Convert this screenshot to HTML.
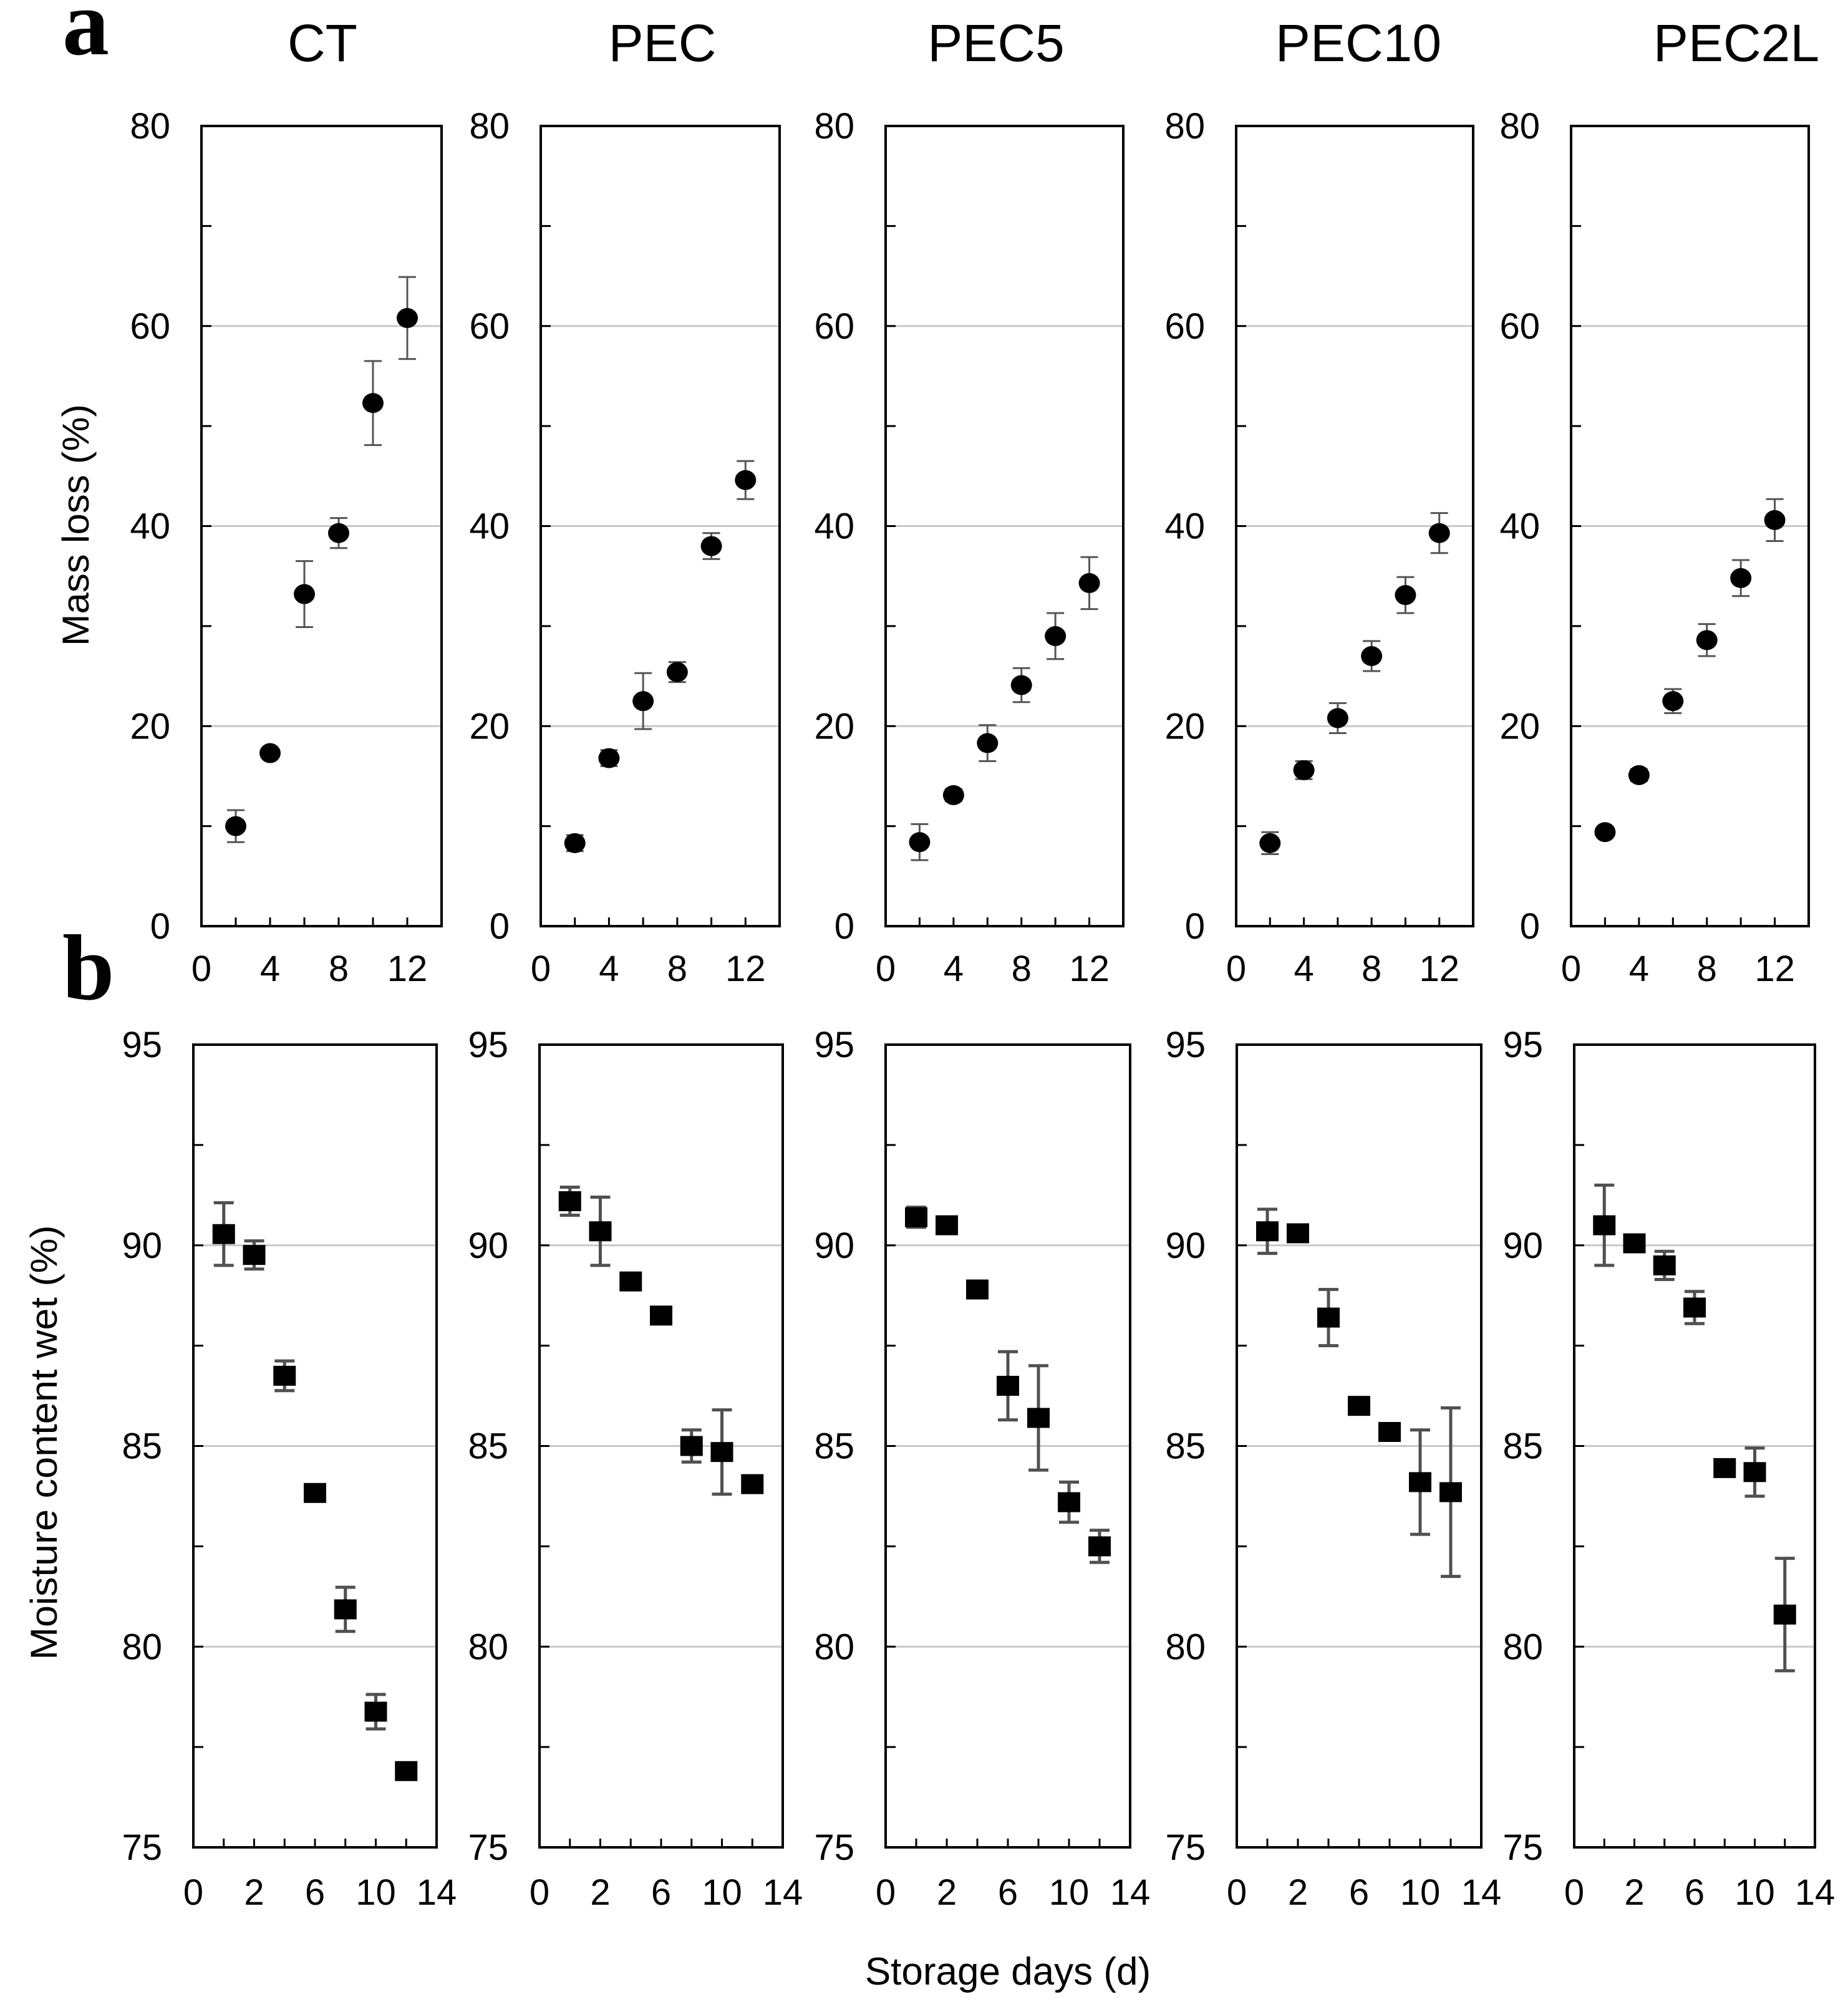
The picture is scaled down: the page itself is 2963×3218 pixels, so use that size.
<!DOCTYPE html>
<html><head><meta charset="utf-8"><style>
html,body{margin:0;padding:0;background:#fff;}
svg{display:block;}
text{font-family:"Liberation Sans",sans-serif;fill:#000;}
</style></head><body>
<svg id="chart" width="2963" height="3218" viewBox="0 0 2963 3218" xmlns="http://www.w3.org/2000/svg">
<rect width="2963" height="3218" fill="#fff"/>
<text x="100" y="87" style="font-family:'Liberation Serif',serif;font-weight:bold;font-size:150px">a</text>
<text x="100" y="1602" style="font-family:'Liberation Serif',serif;font-weight:bold;font-size:150px">b</text>
<text x="0" y="0" transform="translate(142,842) rotate(-90)" text-anchor="middle" font-size="60" textLength="388" lengthAdjust="spacingAndGlyphs">Mass loss (%)</text>
<text x="0" y="0" transform="translate(91,2313) rotate(-90)" text-anchor="middle" font-size="60" textLength="697" lengthAdjust="spacingAndGlyphs">Moisture content wet (%)</text>
<text x="1616" y="3182" text-anchor="middle" font-size="62">Storage days (d)</text>
<g id="plots"></g>
</svg>
<script>
// ---- data ----
const treatments = ["CT","PEC","PEC5","PEC10","PEC2L"];
const massDays = [2,4,6,8,10,12];
const massCT    = [10.0,17.3,33.2,39.3,52.3,60.8];
const massCTErr = [1.6,0.4,3.3,1.5,4.2,4.1];
const massPEC    = [8.3,16.8,22.5,25.4,38.0,44.6];
const massPECErr = [0.8,0.8,2.8,1.0,1.3,1.9];
const massPEC5    = [8.4,13.1,18.3,24.1,29.0,34.3];
const massPEC5Err = [1.8,0.6,1.8,1.7,2.3,2.6];
const massPEC10    = [8.3,15.6,20.8,27.0,33.1,39.3];
const massPEC10Err = [1.1,0.9,1.5,1.5,1.8,2.0];
const massPEC2L    = [9.4,15.1,22.5,28.6,34.8,40.6];
const massPEC2LErr = [0.4,0.6,1.2,1.6,1.8,2.1];
const massTicks = [0,20,40,60,80];
const massXTicks = [0,4,8,12];

const moistDays = [1,2,4,6,8,10,12];
const moistCT    = [90.28,89.76,86.75,83.83,80.93,78.38,76.9];
const moistCTErr = [0.78,0.35,0.37,0.1,0.55,0.43,0.05];
const moistPEC    = [91.1,90.35,89.1,88.25,85.0,84.85,84.05];
const moistPECErr = [0.35,0.85,0.15,0.05,0.4,1.05,0.1];
const moistPEC5    = [90.7,90.5,88.9,86.5,85.7,83.6,82.5];
const moistPEC5Err = [0.25,0.05,0.05,0.85,1.3,0.5,0.4];
const moistPEC10    = [90.35,90.3,88.2,86.0,85.35,84.1,83.85];
const moistPEC10Err = [0.55,0.05,0.7,0.1,0.1,1.3,2.1];
const moistPEC2L    = [90.5,90.05,89.5,88.45,84.45,84.35,80.8];
const moistPEC2LErr = [1.0,0.1,0.35,0.4,0.15,0.6,1.4];
const moistTicks = [75,80,85,90,95];
const moistXLabels = ["0","2","6","10","14"];

const massSeries = [massCT,massPEC,massPEC5,massPEC10,massPEC2L];
const massErrs = [massCTErr,massPECErr,massPEC5Err,massPEC10Err,massPEC2LErr];
const moistSeries = [moistCT,moistPEC,moistPEC5,moistPEC10,moistPEC2L];
const moistErrs = [moistCTErr,moistPECErr,moistPEC5Err,moistPEC10Err,moistPEC2LErr];

// ---- layout ----
const topBoxes = [[323,708],[867,1250],[1420,1801],[1982,2362],[2519,2900]];
const botBoxes = [[310,700],[865,1255],[1420,1812],[1983,2375],[2524,2910]];
const titleX = [517,1062,1597,2178,2784];
const TOP_Y0=202, TOP_Y1=1485, BOT_Y0=1675, BOT_Y1=2962;

const NS="http://www.w3.org/2000/svg";
const root=document.getElementById('plots');
function mk(tag,attrs,parent){const e=document.createElementNS(NS,tag);for(const k in attrs)e.setAttribute(k,attrs[k]);(parent||root).appendChild(e);return e;}

function drawPanel(i,isTop){
  const box=isTop?topBoxes[i]:botBoxes[i];
  const x0=box[0],x1=box[1];
  const y0=isTop?TOP_Y0:BOT_Y0, y1=isTop?TOP_Y1:BOT_Y1;
  const g=mk('g',{});
  
  
  const ymin=isTop?0:75, ymax=isTop?80:95;
  const ys=v=>y1-(v-ymin)/(ymax-ymin)*(y1-y0);
  const xs=isTop?(d=>x0+d/14*(x1-x0)):(k=>x0+k/8*(x1-x0));
  const ticks=isTop?massTicks:moistTicks;
  ticks.forEach(t=>{
    if(t!==ymin&&t!==ymax){
      const l=mk('line',{x1:x0,x2:x1,y1:ys(t),y2:ys(t),stroke:'#c8c8c8','stroke-width':3},g);
      
      
    }
  });
  for(let k=0;k<ticks.length-1;k++){
    const m=(ticks[k]+ticks[k+1])/2;
    mk('line',{x1:x0,x2:x0+16,y1:ys(m),y2:ys(m),stroke:'#000','stroke-width':3},g);
  }
  ticks.forEach(t=>{ if(t!==ymin&&t!==ymax) mk('line',{x1:x0,x2:x0+16,y1:ys(t),y2:ys(t),stroke:'#000','stroke-width':3},g);});
  ticks.forEach(t=>{
    const tx=mk('text',{x:x0-50,y:ys(t)+20,'text-anchor':'end','font-size':58},g);
    tx.textContent=t;
    
    
  });
  if(isTop){
    [2,4,6,8,10,12].forEach(d=>mk('line',{x1:xs(d),x2:xs(d),y1:y1,y2:y1-14,stroke:'#000','stroke-width':3},g));
    massXTicks.forEach(d=>{
      const tx=mk('text',{x:xs(d),y:y1+88,'text-anchor':'middle','font-size':58},g);
      tx.textContent=d;
      
      
    });
  } else {
    for(let k=1;k<8;k++) mk('line',{x1:xs(k),x2:xs(k),y1:y1,y2:y1-14,stroke:'#000','stroke-width':3},g);
    moistXLabels.forEach((lab,k)=>{
      const tx=mk('text',{x:xs(k*2),y:y1+92,'text-anchor':'middle','font-size':58},g);
      tx.textContent=lab;
      
      
    });
  }
  const fr=mk('rect',{x:x0,y:y0,width:x1-x0,height:y1-y0,fill:'none',stroke:'#000','stroke-width':4},g);
  
  
  const vals=isTop?massSeries[i]:moistSeries[i];
  const errs=isTop?massErrs[i]:moistErrs[i];
  vals.forEach((v,k)=>{
    const cx=isTop?xs(massDays[k]):xs(k+1);
    const cy=ys(v);
    const e=errs[k];
    const col=isTop?'#555':'#505050', sw=isTop?3:5, cw=isTop?14:16;
    const eb=mk('path',{d:`M${cx},${ys(v+e)}V${ys(v-e)}M${cx-cw},${ys(v+e)}H${cx+cw}M${cx-cw},${ys(v-e)}H${cx+cw}`,stroke:col,'stroke-width':sw,fill:'none'},g);
    
    
    let m;
    if(isTop){
      m=mk('ellipse',{cx:cx,cy:cy,rx:17,ry:16,fill:'#000'},g);
    } else {
      m=mk('rect',{x:cx-18,y:cy-16,width:36,height:32,fill:'#000'},g);
    }
    
    
  });
}
treatments.forEach((t,i)=>{
  const tt=mk('text',{x:titleX[i],y:98,'text-anchor':'middle','font-size':84});
  tt.textContent=t;
  
  
  drawPanel(i,true);
  drawPanel(i,false);
});
</script>
</body></html>
